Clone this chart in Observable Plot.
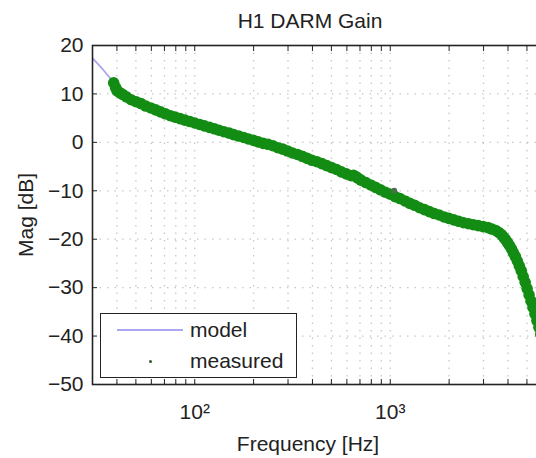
<!DOCTYPE html>
<html><head><meta charset="utf-8">
<script src="https://cdn.jsdelivr.net/npm/d3@7"></script>
<script src="https://cdn.jsdelivr.net/npm/@observablehq/plot@0.6"></script>
<style>
html,body{margin:0;padding:0;background:#fff;overflow:hidden;width:536px;height:458px}
#wrap{position:relative;width:536px;height:458px;overflow:hidden;font-family:"Liberation Sans",Arial,sans-serif;color:#222}
#chart{position:absolute;left:0;top:0;width:640px;height:458px}
#chart svg{max-width:none !important;width:640px;height:458px}
.lbl{position:absolute;white-space:nowrap;font-size:21px;line-height:1}
#legend{position:absolute;left:100px;top:313px;width:195px;height:63px;border:1.5px solid #222;background:#fff}
</style>
</head><body>
<div id="wrap">
  <div id="chart"></div>
  <div class="lbl" id="title" style="left:310px;top:20px;transform:translate(-50%,-50%)">H1 DARM Gain</div>
  <div class="lbl" id="xlabel" style="left:308px;top:443px;transform:translate(-50%,-50%)">Frequency [Hz]</div>
  <div class="lbl" id="ylabel" style="left:25px;top:215px;transform:translate(-50%,-50%) rotate(-90deg)">Mag [dB]</div>
  <div id="legend"></div>
</div>
<script>
// ---- data ----
const title = "H1 DARM Gain";
const seriesNames = ["model", "measured"];
const xDomain = [30, 7000];
const yDomain = [-50, 20];
const yTicks = [-50, -40, -30, -20, -10, 0, 10, 20];
const xTickLabels = [100, 1000];
const xGrid = [40, 50, 60, 70, 80, 90, 100, 200, 300, 400, 500, 600, 700, 800, 900,
               1000, 2000, 3000, 4000, 5000, 6000, 7000];
const yGrid = [-40, -30, -20, -10, 0, 10];

const modelFreq = [30, 34, 38.5, 42, 50, 70, 100, 200, 500, 1000, 2000, 3000, 3600, 4200, 4700, 5100, 5600, 6200, 6800];
const modelMag  = [17.4, 15.0, 12.4, 10.2, 8.4, 5.9, 4.0, 0.4, -5.2, -10.7, -15.7, -17.4, -18.7, -22.3, -26.7, -30.9, -36.6, -43.3, -49.8];

const measFreq = [38.5, 39.4, 40.0, 41.2, 42.7, 44.7, 47.3, 50.1, 53.1, 56.2, 59.6, 63.1, 66.8, 70.8, 75.0,
  79.4, 84.1, 89.1, 94.4, 100, 106, 112, 119, 126, 133, 141, 150, 158, 168, 178, 188, 200, 211, 224, 237,
  251, 266, 282, 299, 316, 335, 355, 376, 398, 422, 447, 473, 501, 531, 562, 596, 631, 649, 668, 684, 708,
  750, 794, 841, 891, 944, 1000, 1059, 1122, 1189, 1259, 1334, 1413, 1496, 1585, 1679, 1778, 1884,
  1995, 2113, 2239, 2371, 2512, 2661, 2818, 2985, 3162, 3311, 3467, 3589, 3715, 3802, 3890, 3981, 4074,
  4169, 4266, 4365, 4467, 4571, 4677, 4786, 4898, 5012, 5129, 5248, 5370, 5495, 5623, 5754, 5888, 6026, 6166];
const measMag = [12.3, 11.3, 10.7, 10.3, 9.9, 9.4, 8.8, 8.4, 8.0, 7.5, 7.1, 6.7, 6.3, 5.9, 5.5,
  5.2, 4.9, 4.6, 4.3, 4.0, 3.7, 3.4, 3.1, 2.8, 2.5, 2.2, 1.9, 1.6, 1.3, 1.0, 0.7, 0.4, 0.1, -0.2, -0.4,
  -0.7, -1.1, -1.4, -1.8, -2.2, -2.5, -2.9, -3.3, -3.7, -4.0, -4.4, -4.8, -5.2, -5.6, -6.1, -6.5, -6.9, -6.8, -7.1, -7.4, -7.8,
  -8.3, -8.8, -9.3, -9.8, -10.3, -10.7, -11.2, -11.6, -12.1, -12.6, -13.0, -13.5, -13.9, -14.3, -14.7, -15.0, -15.4,
  -15.7, -16.0, -16.3, -16.6, -16.8, -17.0, -17.2, -17.4, -17.6, -17.9, -18.2, -18.6, -19.1, -19.6, -20.1, -20.7, -21.3,
  -22.0, -22.8, -23.6, -24.5, -25.5, -26.5, -27.7, -28.9, -30.2, -31.5, -32.8, -34.1, -35.4, -36.8, -38.2, -39.6, -41.0, -42.4];
// isolated measured points that sit off the main band
const outlierFreq = [1047];
const outlierMag = [-10.0];

const modelColor = "#aaa8ee";
const measColor = "#138c13";
// ---------------------------------------

const model = modelFreq.map((f, i) => ({f, mag: modelMag[i]}));
const measured = measFreq.map((f, i) => ({f, mag: measMag[i]}));
const outliers = outlierFreq.map((f, i) => ({f, mag: outlierMag[i]}));
const sup = {100: "10\u00B2", 1000: "10\u00B3"};

const gridStyle = {stroke: "#999", strokeOpacity: 0.55, strokeWidth: 1.3, strokeDasharray: "1.5,6"};

const chart = Plot.plot({
  width: 640,
  height: 458,
  marginLeft: 92,
  marginTop: 45,
  marginBottom: 74,
  marginRight: 85,
  style: {fontFamily: '"Liberation Sans", Arial, sans-serif', fontSize: "21px", color: "#222", background: "transparent", maxWidth: "none"},
  x: {type: "log", domain: xDomain},
  y: {domain: yDomain},
  marks: [
    Plot.gridX(xGrid, gridStyle),
    Plot.gridY(yGrid, gridStyle),
    Plot.line(model, {x: "f", y: "mag", stroke: modelColor, strokeWidth: 1.8, clip: true}),
    Plot.dot(measured, {x: "f", y: "mag", r: 5.8, fill: measColor, stroke: "none", clip: true}),
    Plot.dot(outliers, {x: "f", y: "mag", r: 3, fill: "#4a6e4a", stroke: "none", clip: true}),
    Plot.axisY({ticks: yTicks, tickSize: 0, tickPadding: 9, label: null, fontSize: 21,
                tickFormat: d => (d < 0 ? "\u2212" + Math.abs(d) : String(d))}),
    Plot.axisX({ticks: xTickLabels, tickSize: 0, tickPadding: 20, label: null, fontSize: 21,
                tickFormat: d => sup[d]}),
    Plot.axisY({ticks: yTicks, tickSize: -5, label: null, tickFormat: () => "", stroke: "#222"}),
    Plot.axisX({ticks: xGrid, tickSize: -5, label: null, tickFormat: () => "", stroke: "#222"}),
    Plot.axisX({anchor: "top", ticks: xGrid, tickSize: -5, label: null, tickFormat: () => "", stroke: "#222"}),
    Plot.frame({stroke: "#222", strokeWidth: 1.6})
  ]
});
chart.style.maxWidth = "none";
document.getElementById("chart").appendChild(chart);

// legend
const lg = document.getElementById("legend");
lg.innerHTML =
  `<div style="position:absolute;left:16px;top:15px;width:66px;height:2px;background:${modelColor}"></div>` +
  `<div class="lbl" style="left:89px;top:17px;transform:translateY(-55%)">${seriesNames[0]}</div>` +
  `<div style="position:absolute;left:48px;top:46px;width:3px;height:3px;border-radius:50%;background:#2a5a2a"></div>` +
  `<div class="lbl" style="left:89px;top:48px;transform:translateY(-55%)">${seriesNames[1]}</div>`;
</script>
</body></html>
